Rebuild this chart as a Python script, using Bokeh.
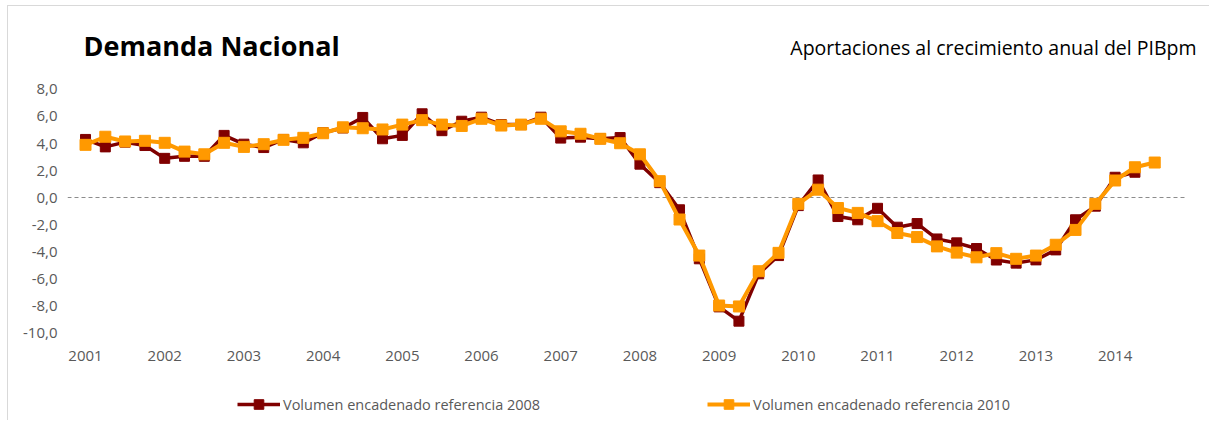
from bokeh.plotting import figure
from bokeh.models import Label, Legend, LegendItem, FixedTicker, Range1d
from bokeh.embed import file_html
from bokeh.resources import INLINE

# ---- data (quarterly, 2001T1 ... 2014T3) ----
years = ["2001", "2002", "2003", "2004", "2005", "2006", "2007",
         "2008", "2009", "2010", "2011", "2012", "2013", "2014"]

ref_2008 = [4.3, 3.75, 4.1, 3.85, 2.9, 3.05, 3.05, 4.6,
            3.95, 3.7, 4.3, 4.05, 4.8, 5.15, 5.93, 4.35,
            4.6, 6.2, 4.95, 5.65, 5.95, 5.4, 5.4, 5.95,
            4.4, 4.47, 4.35, 4.44, 2.47, 1.1, -0.91, -4.54,
            -8.1, -9.16, -5.65, -4.3, -0.6, 1.3, -1.41, -1.65,
            -0.8, -2.2, -1.93, -3.07, -3.36, -3.78, -4.63, -4.86,
            -4.62, -3.88, -1.65, -0.64, 1.5, 1.87]

ref_2010 = [3.9, 4.5, 4.15, 4.2, 4.05, 3.4, 3.2, 4.05,
            3.75, 3.95, 4.27, 4.42, 4.76, 5.2, 5.13, 5.04,
            5.4, 5.73, 5.4, 5.3, 5.83, 5.33, 5.4, 5.83,
            4.9, 4.72, 4.35, 4.02, 3.2, 1.21, -1.63, -4.3,
            -8.0, -8.07, -5.46, -4.1, -0.47, 0.58, -0.78, -1.14,
            -1.75, -2.63, -2.93, -3.62, -4.08, -4.43, -4.12, -4.54,
            -4.3, -3.5, -2.4, -0.47, 1.26, 2.24, 2.59]

y_ticks = [-10, -8, -6, -4, -2, 0, 2, 4, 6, 8]
y_tick_labels = ["-10,0", "-8,0", "-6,0", "-4,0", "-2,0", "0,0", "2,0", "4,0", "6,0", "8,0"]

label_2008 = "Volumen encadenado referencia 2008"
label_2010 = "Volumen encadenado referencia 2010"
title_text = "Demanda Nacional"
subtitle_text = "Aportaciones al crecimiento anual del PIBpm"

# ---- layout constants ----
FONT = "Open Sans"
X_START, X_END = -0.91, 56.16      # frame extended to hold the subtitle
ZERO_END = 55.56                    # end of the dashed zero line (plot-area edge)
Y_START, Y_END = -16.59, 13.11      # frame extended to hold titles and legend
Y_AXIS_AT = -10                     # x axis drawn at the bottom of the value range

x08 = list(range(len(ref_2008)))
x10 = list(range(len(ref_2010)))

p = figure(width=1202, height=415, output_backend="svg", toolbar_location=None,
           x_range=Range1d(X_START, X_END), y_range=Range1d(Y_START, Y_END),
           min_border_left=59, min_border_right=13, min_border_top=14, min_border_bottom=0,
           styles={"margin-left": "7px", "margin-top": "5px",
                   "border-left": "1px solid #D9D9D9", "border-top": "1px solid #D9D9D9"})
p.xgrid.visible = False
p.ygrid.visible = False
p.outline_line_color = None
p.background_fill_color = "white"
p.border_fill_color = "white"

xt = [4 * i for i in range(len(years))]
p.xaxis.ticker = FixedTicker(ticks=xt)
p.xaxis.major_label_overrides = {t: y for t, y in zip(xt, years)}
p.xaxis.fixed_location = Y_AXIS_AT
p.yaxis.ticker = FixedTicker(ticks=y_ticks)
p.yaxis.major_label_overrides = {t: l for t, l in zip(y_ticks, y_tick_labels)}
for ax in (p.xaxis, p.yaxis):
    ax.axis_line_color = None
    ax.major_tick_line_color = None
    ax.minor_tick_line_color = None
    ax.major_tick_in = 0
    ax.major_tick_out = 0
    ax.minor_tick_in = 0
    ax.minor_tick_out = 0
    ax.major_label_text_font = FONT
    ax.major_label_text_font_size = "15px"
    ax.major_label_text_color = "#595959"
p.xaxis.major_label_standoff = 18
p.yaxis.major_label_standoff = 10

# dashed zero line
p.segment(x0=[X_START], y0=[0], x1=[ZERO_END], y1=[0],
          line_color="#8C8C8C", line_dash="4 3", line_width=1)

l1 = p.line(x08, ref_2008, line_color="#800000", line_width=3.5)
s1 = p.scatter(x08, ref_2008, marker="square", size=10, color="#800000")
l2 = p.line(x10, ref_2010, line_color="#FF9900", line_width=4)
s2 = p.scatter(x10, ref_2010, marker="square", size=11, color="#FF9900")

for lab, rs, xloc in ((label_2008, [l1, s1], 170), (label_2010, [l2, s2], 640)):
    leg = Legend(items=[LegendItem(label=lab, renderers=rs)], location=(xloc, 5),
                 orientation="horizontal", glyph_width=43, glyph_height=24,
                 label_standoff=3, padding=0, margin=0, spacing=0,
                 border_line_color=None, background_fill_alpha=0,
                 label_text_font=FONT, label_text_font_size="14.5px",
                 label_text_color="#595959")
    p.add_layout(leg)

p.add_layout(Label(x=16, y=376, x_units="screen", y_units="screen", text=title_text,
                   text_font=FONT, text_font_size="27px", text_font_style="bold",
                   text_color="black", text_baseline="middle", text_align="left"))
p.add_layout(Label(x=1129, y=374, x_units="screen", y_units="screen", text=subtitle_text,
                   text_font=FONT, text_font_size="19.5px",
                   text_color="black", text_baseline="middle", text_align="right"))

open("out.html", "w").write(file_html(p, INLINE))
